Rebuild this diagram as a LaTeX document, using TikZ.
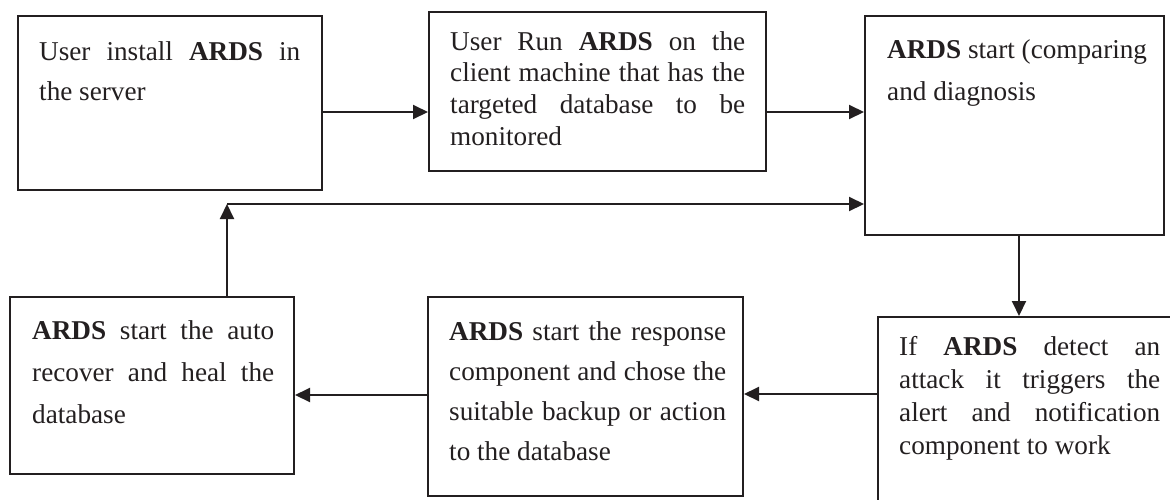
\documentclass[tikz,border=0pt]{standalone}
\usepackage{fontspec}
\setmainfont{Liberation Serif}
\usetikzlibrary{arrows.meta}
\definecolor{ink}{RGB}{35,31,32}
\tolerance=10000
\hbadness=10000
\tikzset{
  box/.style={draw=ink, line width=2pt, rectangle, inner sep=0pt},
  txt/.style={anchor=base west, inner sep=0pt, align=justify, text=ink},
  arr/.style={draw=ink, line width=2pt, -{Triangle[length=15pt,width=14pt]}},
}
\newcommand{\ards}{\textbf{ARDS}}
\begin{document}
\begin{tikzpicture}[x=1pt,y=-1pt]
\useasboundingbox (0,0) rectangle (1170,499);
\clip (0,0) rectangle (1170,499);

% process boxes
\node[box, minimum width=304pt, minimum height=174pt] (box1) at (170,103) {};
\node[box, minimum width=337pt, minimum height=159pt] (box2) at (597.5,91.5) {};
\node[box, minimum width=299pt, minimum height=219pt] (box3) at (1014.5,125.5) {};
\node[box, minimum width=312pt, minimum height=203pt] (box4) at (1034,418.5) {};
\node[box, minimum width=315pt, minimum height=199pt] (box5) at (585.5,396.5) {};
\node[box, minimum width=284pt, minimum height=177pt] (box6) at (152,385.5) {};

% box texts
\node[txt, text width=261pt, font=\fontsize{27.2}{40}\selectfont] (t1) at (39,60)
  {User install \ards{} in\linebreak the server};
\node[txt, text width=295pt, font=\fontsize{27.2}{31.7}\selectfont] (t2) at (450,50)
  {User Run \ards{} on the\linebreak client machine that has the\linebreak targeted database to be\linebreak monitored};
\node[txt, text width=272pt, font=\fontsize{27.2}{42}\selectfont] (t3) at (887,58)
  {\ards{} start (comparing\\ and diagnosis};
\node[txt, text width=261pt, font=\fontsize{27.2}{33}\selectfont] (t4) at (899,355)
  {If \ards{} detect an\linebreak attack it triggers the\linebreak alert and notification\linebreak component to work};
\node[txt, text width=277pt, font=\fontsize{27.2}{40}\selectfont] (t5) at (449,340)
  {\ards{} start the response\linebreak component and chose the\linebreak suitable backup or action\linebreak to the database};
\node[txt, text width=242pt, font=\fontsize{27.2}{42}\selectfont] (t6) at (32,339)
  {\ards{} start the auto\linebreak recover and heal the\linebreak database};

% connectors
\coordinate (fb) at (227,204);
\draw[arr] (box1.east |- 0,112) -- (box2.west |- 0,112);
\draw[arr] (box2.east |- 0,112) -- (box3.west |- 0,112);
\draw[arr] (box3.south -| 1019,0) -- (box4.north -| 1019,0);
\draw[arr] (box4.west |- 0,394) -- (box5.east |- 0,394);
\draw[arr] (box5.west |- 0,395) -- (box6.east |- 0,395);
\draw[arr] (box6.north -| fb) -- (fb);
\draw[arr] (fb) -- (box3.west |- fb);
\end{tikzpicture}
\end{document}
